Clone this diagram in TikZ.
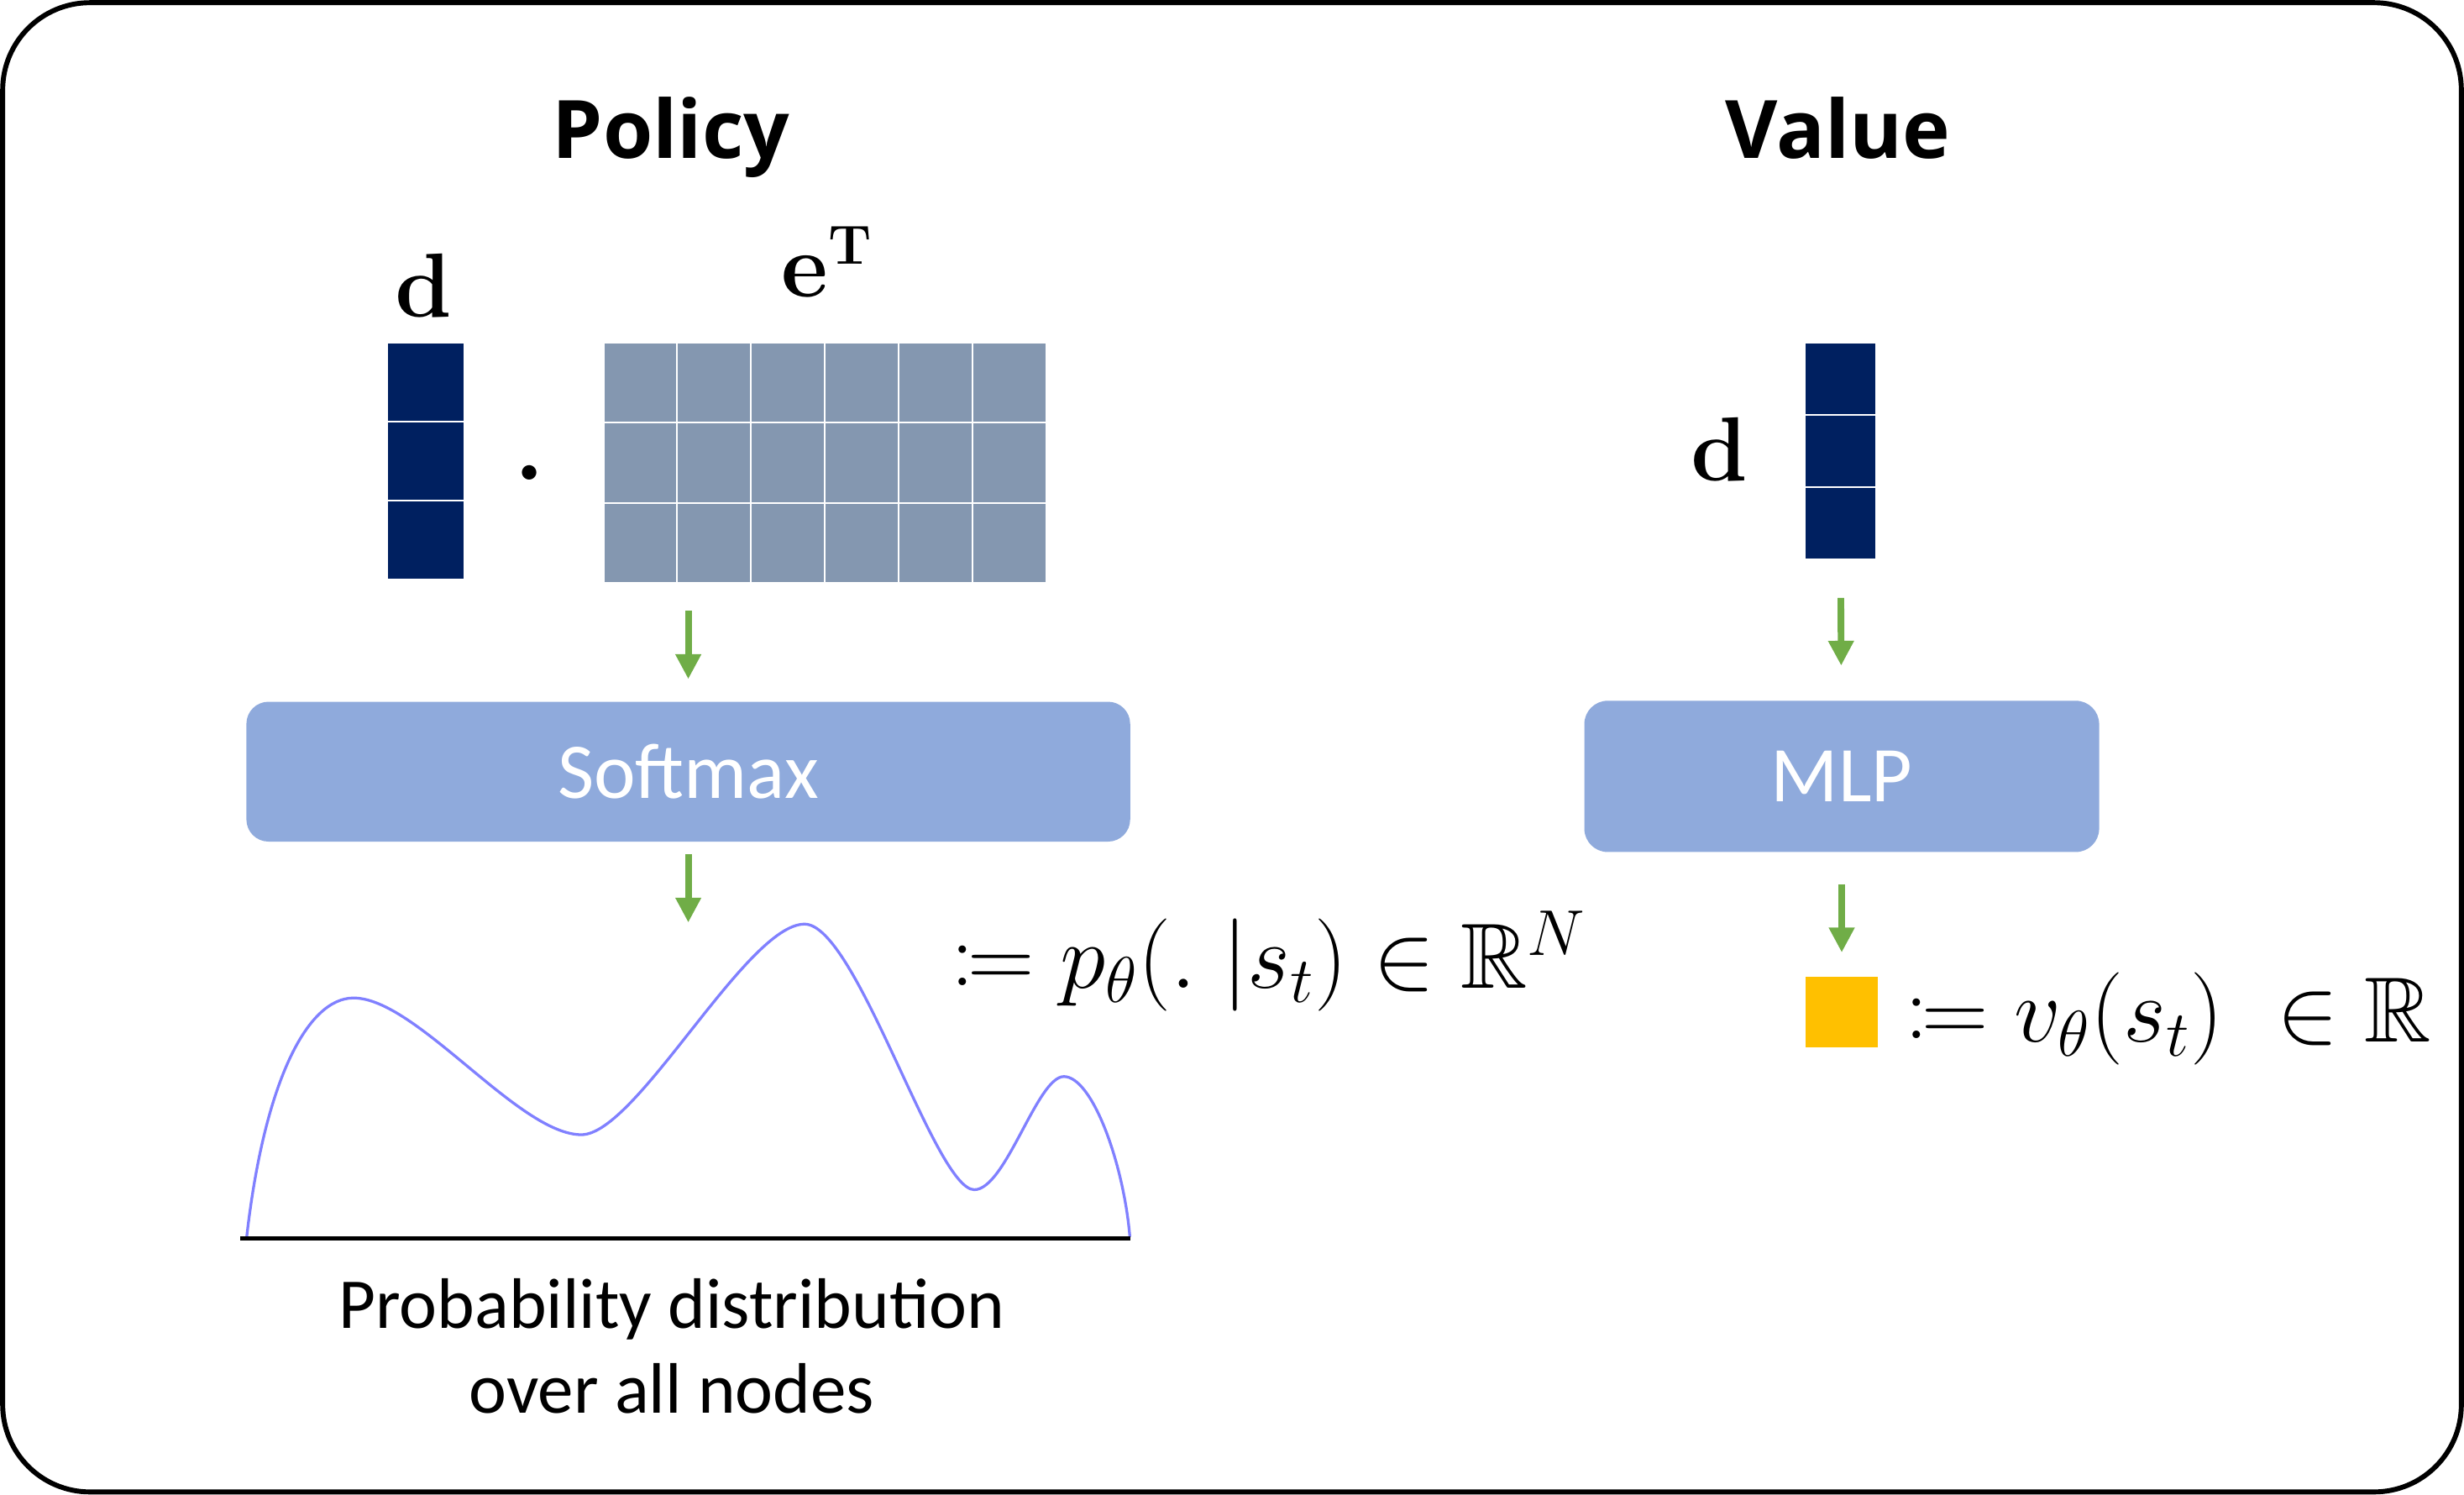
\RequirePackage{fix-cm}
\documentclass[tikz,border=0pt]{standalone}
\usepackage{amssymb}
\usepackage{mathtools}
\usepackage[no-math]{fontspec}
\newfontfamily\calibri{Carlito}
\newfontfamily\segoe{Open Sans}
\usetikzlibrary{arrows.meta,positioning}
\DeclareFontFamily{U}{msb}{}
\DeclareFontShape{U}{msb}{m}{n}{<-6>msbm5<6-8>msbm7<8->msbm10}{}
\DeclareMathSizes{33}{33}{20}{15}

\definecolor{navy}{HTML}{002060}
\definecolor{slate}{HTML}{8497B0}
\definecolor{boxblue}{HTML}{8FAADC}
\definecolor{arrowgreen}{HTML}{70AD47}
\definecolor{gold}{HTML}{FFC000}
\definecolor{curveblue}{HTML}{8080FF}

\begin{document}
\begin{tikzpicture}[x=0.02cm, y=-0.02cm,
    title/.style = {font=\segoe\bfseries\fontsize{29.2}{35}\selectfont, inner sep=0, anchor=base},
    vec/.style = {font=\fontsize{33}{40}\selectfont, inner sep=0},
    cellD/.style = {fill=navy, draw=white, line width=0.6pt, inner sep=0},
    cellE/.style = {fill=slate, draw=white, line width=0.6pt, inner sep=0, minimum width=0.94cm, minimum height=1.02cm},
    block/.style = {fill=boxblue, rounded corners=8pt, inner sep=0, text=white, font=\calibri\fontsize{28.6}{34}\selectfont},
    flow/.style = {draw=arrowgreen, line width=2.4pt, -{Triangle[length=9pt, width=8.8pt]}},
    formula/.style = {font=\fontsize{33.5}{40}\selectfont, inner sep=0, anchor=base west}]
    \useasboundingbox (0,0) rectangle (1568,951);
    \draw[line width=1.8pt, rounded corners=1.11cm] (1.7,1.7) rectangle (1566.3,949.3);

    %Policy
    \node[title] (poltitle) at (427,100.6) {Policy};
    \foreach \r/\y in {1/243.2, 2/293.5, 3/343.8}
        \node[cellD, minimum width=0.99cm, minimum height=1.004cm] (dp\r) at (271,\y) {};
    \foreach \r in {1,2,3}
        \foreach \c in {1,...,6}
            \node[cellE] (e\r\c) at ({407.5+47*(\c-1)},{243.5+51*(\r-1)}) {};
    \node[vec, anchor=base] (dplabel) at (269.5,202) {$\mathbf{d}$};
    \node[vec, anchor=base west] (elabel) at (497,189) {$\mathbf{e}^{\mathbf{T}}$};
    \node[inner sep=0, font=\fontsize{54}{54}\selectfont] (dot) at (337,300.6) {$\mathbf{.}$};
    \node[block, minimum width=11.25cm, minimum height=1.78cm] (softmax) at (438,491) {Softmax};
    \draw[flow, shorten <=9.7pt, shorten >=8pt] (softmax.north |- e31.south) -- (softmax.north);
    \coordinate (dtop) at (438,587);
    \draw[flow, shorten <=4.3pt] (softmax.south) -- (dtop);
    \draw[curveblue, line width=1pt] (157,787) .. controls (168,690) and (195,635) .. (225,635)
        .. controls (265,635) and (330,722) .. (370,722)
        .. controls (405,722) and (475,588) .. (512,588)
        .. controls (545,588) and (595,757) .. (620,757)
        .. controls (640,757) and (660,685) .. (677,685)
        .. controls (695,685) and (715,740) .. (719,787);
    \draw[line width=1.7pt] (153,788) coordinate (axL) -- (719.5,788) coordinate (axR);
    \node[font=\calibri\fontsize{25.9}{31}\selectfont, align=center, inner sep=0, anchor=north] (caption) at (427.5,813) {Probability distribution\\over all nodes};
    \node[formula] (pform) at (605,629) {$\coloneqq p_{\theta}(.\;|s_{t}) \in \mathbb{R}^{N}$};

    %Value
    \node[title] (valtitle) at (1169.5,100.6) {Value};
    \foreach \r/\y in {1/241, 2/287, 3/333}
        \node[cellD, minimum width=0.908cm, minimum height=0.92cm] (dv\r) at (1171.2,\y) {};
    \node[vec, anchor=base] (dvlabel) at (1094,306) {$\mathbf{d}$};
    \node[block, minimum width=6.554cm, minimum height=1.926cm, rounded corners=8.5pt] (mlp) at (1172,494) {MLP};
    \draw[flow, shorten <=13.6pt, shorten >=12.5pt] (dv3) -- (mlp);
    \node[fill=gold, inner sep=0, minimum width=0.91cm, minimum height=0.9cm] (val) at (1172,644) {};
    \draw[flow, shorten <=11.4pt, shorten >=8.6pt] (mlp) -- (val);
    \node[formula] (vform) at (1212,663) {$\coloneqq v_{\theta}(s_{t})\ \in \mathbb{R}$};
\end{tikzpicture}
\end{document}
